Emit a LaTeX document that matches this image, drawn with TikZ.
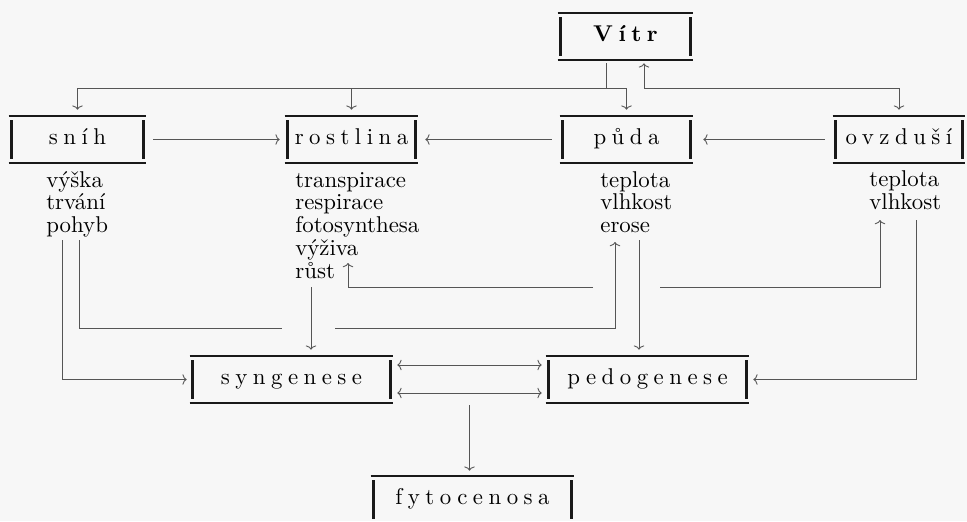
\documentclass[tikz,border=0pt]{standalone}
\usepackage{fontspec}
\setmainfont{lmroman10}[Extension=.otf, UprightFont=*-regular, BoldFont=*-bold,
  ItalicFont=*-italic, BoldItalicFont=*-bolditalic]
\usepackage{tikz}
\usetikzlibrary{arrows.meta, calc}
\definecolor{papir}{RGB}{247, 247, 247}
\definecolor{cara}{RGB}{85, 85, 85}
\definecolor{ramecek}{RGB}{25, 25, 25}

\tikzset{
  blok/.style={minimum height=0.94cm, inner sep=0pt, text height=2.0ex, text depth=0.55ex,
    font=\fontsize{13}{15}\selectfont\addfontfeatures{LetterSpace=24}},
  vlastnosti/.style={anchor=base west, inner sep=0pt, align=left, font=\fontsize{13}{12.9}\selectfont},
  spoj/.style={draw=cara, line width=0.5pt},
  sipka/.style={spoj, -{To[length=2.4pt, width=6pt]}},
  obousipka/.style={spoj, {To[length=2.4pt, width=6pt]}-{To[length=2.4pt, width=6pt]}},
}

\begin{document}
\begin{tikzpicture}
  \fill[papir] (0,0) rectangle (19.34,-10.42);
  \useasboundingbox (0,0) rectangle (19.34,-10.42);

  % Bloky
  \node[blok, minimum width=2.70cm] (vitr) at (12.51,-0.73) {\bfseries Vítr};
  \node[blok, minimum width=2.74cm] (snih) at (1.55,-2.79) {sníh};
  \node[blok, minimum width=2.66cm] (rostlina) at (7.03,-2.79) {rostlina};
  \node[blok, minimum width=2.66cm] (puda) at (12.53,-2.79) {půda};
  \node[blok, minimum width=2.64cm] (ovzdusi) at (17.98,-2.79) {ovzduší};
  \node[blok, minimum width=4.06cm] (syngenese) at (5.83,-7.59) {syngenese};
  \node[blok, minimum width=4.06cm] (pedogenese) at (12.95,-7.59) {pedogenese};
  \node[blok, minimum width=4.06cm] (fytocenosa) at (9.45,-9.99) {fytocenosa};

  % Ramecky
  \foreach \b in {vitr, snih, rostlina, puda, ovzdusi, syngenese, pedogenese, fytocenosa} {
    \draw[ramecek, line width=1.3pt] (\b.north west) -- (\b.north east) (\b.south west) -- (\b.south east);
    \draw[ramecek, line width=1.5pt] ($(\b.north west)+(0.06,-0.09)$) -- ($(\b.south west)+(0.06,0.09)$)
      ($(\b.north east)+(-0.06,-0.09)$) -- ($(\b.south east)+(-0.06,0.09)$);
  }

  % Vlastnosti (base = posledni radek)
  \node[vlastnosti] (snihvl) at (0.92,-4.65) {výška\\trvání\\pohyb};
  \node[vlastnosti] (rostlinavl) at (5.90,-5.56) {transpirace\\respirace\\fotosynthesa\\výživa\\růst};
  \node[vlastnosti] (pudavl) at (12.00,-4.65) {teplota\\vlhkost\\erose};
  \node[vlastnosti] (ovzdusivl) at (17.38,-4.19) {teplota\\vlhkost};

  % Vitr nahore
  \coordinate (sbernice) at (0,-1.76);
  \draw[spoj, shorten <=0.06cm] ([xshift=-0.39cm]vitr.south) -- ([xshift=-0.39cm]vitr.south |- sbernice);
  \draw[spoj] (snih.north |- sbernice) -- (puda.north |- sbernice);
  \foreach \b in {snih, rostlina, puda, ovzdusi}
    \draw[sipka, shorten >=0.12cm] (\b.north |- sbernice) -- (\b.north);
  \draw[spoj] ([xshift=0.37cm]vitr.south |- sbernice) -- (ovzdusi.north |- sbernice);
  \draw[sipka, shorten >=0.06cm] ([xshift=0.37cm]vitr.south |- sbernice) -- ([xshift=0.37cm]vitr.south);

  % Vodorovne sipky v rade
  \draw[sipka, shorten <=0.14cm, shorten >=0.1cm] (snih.east) -- (rostlina.west);
  \draw[sipka, shorten <=0.16cm, shorten >=0.14cm] (puda.west) -- (rostlina.east);
  \draw[sipka, shorten <=0.16cm, shorten >=0.2cm] (ovzdusi.west) -- (puda.east);

  % Odbocky pod vlastnostmi
  \coordinate (s1) at (1.24,-4.80);
  \coordinate (s2) at (1.58,-4.80);
  \coordinate (r1) at (6.22,-5.74);
  \coordinate (r2) at (6.96,-5.26);
  \coordinate (p1) at (12.30,-4.84);
  \coordinate (p2) at (12.78,-4.80);
  \coordinate (o1) at (17.60,-4.40);
  \coordinate (o2) at (18.32,-4.40);
  \coordinate (mezera1) at (6.22,-6.56);
  \coordinate (mezera2) at (12.53,-5.74);

  \draw[sipka, shorten >=0.06cm] (s1) |- (syngenese.west);
  \draw[spoj] (s2) |- ([xshift=-0.58cm]mezera1);
  \draw[sipka] ([xshift=0.48cm]mezera1) -| (p1);
  \draw[sipka, shorten >=0.12cm] (r1) -- (r1 |- syngenese.north);
  \draw[sipka] ([xshift=-0.67cm]mezera2) -| (r2);
  \draw[sipka] ([xshift=0.67cm]mezera2) -| (o1);
  \draw[sipka, shorten >=0.12cm] (p2) -- (p2 |- pedogenese.north);
  \draw[sipka, shorten >=0.08cm] (o2) |- (pedogenese.east);

  % Syngenese a pedogenese
  \draw[obousipka, shorten <=0.08cm, shorten >=0.08cm] ([yshift=0.29cm]syngenese.east) -- ([yshift=0.29cm]pedogenese.west);
  \draw[obousipka, shorten <=0.08cm, shorten >=0.08cm] ([yshift=-0.27cm]syngenese.east) -- ([yshift=-0.27cm]pedogenese.west);
  \coordinate (stred) at ($(syngenese.south east)!0.5!(pedogenese.south west)$);
  \draw[sipka, shorten <=0.04cm, shorten >=0.1cm] (stred) -- (stred |- fytocenosa.north);
\end{tikzpicture}
\end{document}
